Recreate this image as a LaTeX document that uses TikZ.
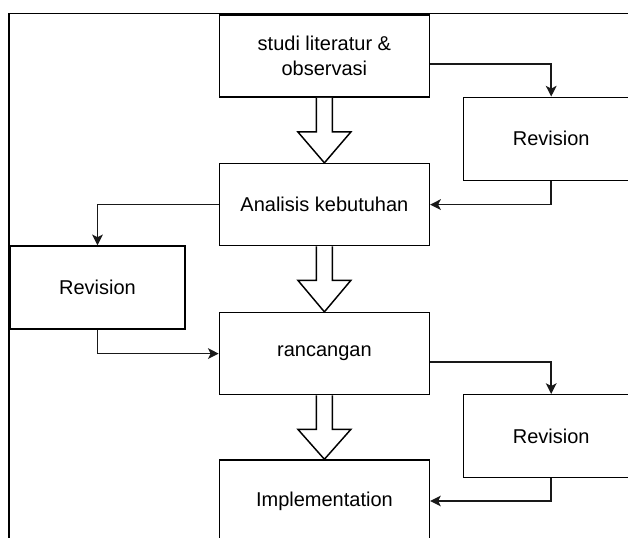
\documentclass[tikz,border=0pt]{standalone}
\usepackage{fontspec}
\setmainfont{Liberation Sans}
\usetikzlibrary{arrows.meta,calc}
\begin{document}
\begin{tikzpicture}[x=0.75pt,y=-0.75pt,
  every node/.style={font=\fontsize{15}{18.75}\selectfont},
  boxn/.style={draw=black,line width=1.1pt,minimum width=157.5pt,minimum height=61.5pt,align=center,inner sep=0pt},
  revn/.style={draw=black,line width=1.1pt,minimum width=131.25pt,minimum height=62.25pt,align=center,inner sep=0pt},
  conn/.style={draw=black!90,line width=1.3pt,-{Stealth[length=8pt,width=8pt,inset=2pt]}},
  blockarr/.style={draw=black,line width=1.1pt,fill=white,line join=miter}]
\useasboundingbox (0,0) rectangle (628,538);
\clip (0,0) rectangle (628,538);
% frame
\draw[line width=1.1pt] (9,560) -- (9,13.3) -- (660,13.3);
% nodes
\node[boxn] (s) at (324.4,56.2) {studi literatur \&\\observasi};
\node[boxn] (a) at (324.4,204.6) {Analisis kebutuhan};
\node[boxn] (r) at (324.4,353.6) {rancangan};
\node[boxn] (i) at (324.4,501) {Implementation};
\node[revn] (rv1) at (551.2,138.8) {Revision};
\node[revn] (rv2) at (97.5,287.5) {Revision};
\node[revn] (rv3) at (551.2,436.2) {Revision};
% block arrows
\foreach \p/\q in {s/a,a/r,r/i}{
  \draw[blockarr] ($(\p.south)+(-8,0)$) -- ($(\p.south)+(-8,34)$) -- ($(\p.south)+(-26.5,34)$)
    -- (\q.north) -- ($(\p.south)+(26.5,34)$) -- ($(\p.south)+(8,34)$) -- ($(\p.south)+(8,0)$);
}
% connectors
\draw[conn] ($(s.east)+(0,8)$) -| (rv1.north);
\draw[conn] (rv1.south) |- (a.east);
\draw[conn] (a.west) -| (rv2.north);
\draw[conn] (rv2.south) |- (r.west);
\draw[conn] ($(r.east)+(0,8.7)$) -| (rv3.north);
\draw[conn] (rv3.south) |- (i.east);
\end{tikzpicture}
\end{document}
